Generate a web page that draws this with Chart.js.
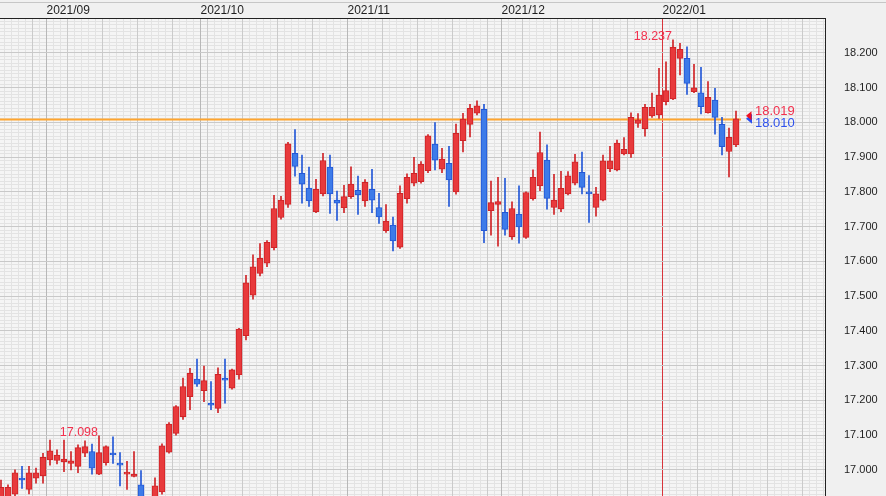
<!DOCTYPE html>
<html>
<head>
<meta charset="utf-8">
<script src="https://cdn.jsdelivr.net/npm/chart.js@4.4.0/dist/chart.umd.min.js"></script>
<style>
  html, body { margin: 0; padding: 0; background: #f0f0f0; }
  #wrap { position: relative; width: 886px; height: 496px; overflow: hidden; }
  #topline { position: absolute; left: 0; top: 2px; width: 886px; height: 1px; background: #c6c6c6; }
  canvas { display: block; }
</style>
</head>
<body>
<div id="wrap">
  <div id="topline"></div>
  <canvas id="chart" width="886" height="496"></canvas>
</div>
<script>
// trading days (one candle per day)
const dates = [
  '2021/08/23','2021/08/24','2021/08/25','2021/08/26','2021/08/27','2021/08/30','2021/08/31',
  '2021/09/01','2021/09/02','2021/09/03','2021/09/06','2021/09/07','2021/09/08','2021/09/09','2021/09/10',
  '2021/09/13','2021/09/14','2021/09/15','2021/09/16','2021/09/17','2021/09/20','2021/09/21','2021/09/22',
  '2021/09/23','2021/09/24','2021/09/27','2021/09/28','2021/09/29','2021/09/30',
  '2021/10/01','2021/10/04','2021/10/05','2021/10/06','2021/10/07','2021/10/08','2021/10/11','2021/10/12',
  '2021/10/13','2021/10/14','2021/10/15','2021/10/18','2021/10/19','2021/10/20','2021/10/21','2021/10/22',
  '2021/10/25','2021/10/26','2021/10/27','2021/10/28','2021/10/29',
  '2021/11/01','2021/11/02','2021/11/03','2021/11/04','2021/11/05','2021/11/08','2021/11/09','2021/11/10',
  '2021/11/11','2021/11/12','2021/11/15','2021/11/16','2021/11/17','2021/11/18','2021/11/19','2021/11/22',
  '2021/11/23','2021/11/24','2021/11/25','2021/11/26','2021/11/29','2021/11/30',
  '2021/12/01','2021/12/02','2021/12/03','2021/12/06','2021/12/07','2021/12/08','2021/12/09','2021/12/10',
  '2021/12/13','2021/12/14','2021/12/15','2021/12/16','2021/12/17','2021/12/20','2021/12/21','2021/12/22',
  '2021/12/23','2021/12/24','2021/12/27','2021/12/28','2021/12/29','2021/12/30','2021/12/31',
  '2022/01/03','2022/01/04','2022/01/05','2022/01/06','2022/01/07','2022/01/10','2022/01/11','2022/01/12',
  '2022/01/13','2022/01/14','2022/01/17'
];

const opens = [
  16.900,16.915,16.930,16.976,16.944,16.976,16.983,17.029,17.027,17.023,
  17.019,17.010,17.048,17.053,16.988,17.021,17.048,17.019,16.988,16.981,
  16.957,16.900,16.890,16.937,17.051,17.105,17.153,17.211,17.261,17.228,
  17.192,17.177,17.264,17.235,17.273,17.386,17.503,17.565,17.595,17.639,
  17.726,17.764,17.911,17.853,17.811,17.743,17.794,17.871,17.776,17.754,
  17.786,17.804,17.774,17.807,17.755,17.688,17.704,17.641,17.780,17.825,
  17.829,17.861,17.937,17.865,17.882,17.800,17.947,17.994,18.026,18.037,
  17.746,17.764,17.741,17.671,17.736,17.669,17.780,17.817,17.891,17.755,
  17.751,17.794,17.825,17.856,17.798,17.755,17.776,17.866,17.863,17.909,
  17.909,17.997,17.982,18.018,18.021,18.059,18.067,18.184,18.184,18.088,
  18.085,18.028,18.064,17.994,17.916,17.935
];
const highs = [
  16.971,16.957,17.000,17.010,17.010,17.005,17.048,17.086,17.058,17.086,
  17.053,17.072,17.084,17.074,17.098,17.069,17.095,17.050,17.025,17.053,
  16.998,16.915,16.977,17.075,17.136,17.185,17.264,17.292,17.319,17.299,
  17.254,17.294,17.319,17.290,17.407,17.560,17.619,17.651,17.660,17.790,
  17.787,17.942,17.979,17.906,17.871,17.836,17.911,17.906,17.802,17.819,
  17.872,17.845,17.835,17.865,17.796,17.763,17.727,17.817,17.852,17.899,
  17.887,17.965,17.999,17.925,17.931,17.995,18.026,18.052,18.062,18.052,
  17.831,17.842,17.839,17.771,17.817,17.800,17.863,17.972,17.935,17.850,
  17.859,17.858,17.908,17.914,17.847,17.813,17.906,17.931,17.949,17.956,
  18.027,18.025,18.052,18.084,18.155,18.174,18.237,18.227,18.217,18.167,
  18.158,18.117,18.098,18.014,17.983,18.032
];
const lows = [
  16.880,16.900,16.922,16.947,16.931,16.962,16.962,17.014,17.017,16.995,
  17.000,16.992,17.038,16.988,16.986,17.014,17.019,16.954,16.944,16.980,
  16.880,16.850,16.870,16.930,17.048,17.100,17.145,17.173,17.240,17.196,
  17.173,17.165,17.192,17.232,17.261,17.374,17.491,17.558,17.585,17.633,
  17.721,17.755,17.845,17.767,17.758,17.740,17.788,17.738,17.718,17.740,
  17.781,17.735,17.758,17.740,17.709,17.683,17.630,17.637,17.767,17.817,
  17.825,17.855,17.863,17.855,17.758,17.793,17.915,17.958,18.021,17.654,
  17.675,17.644,17.675,17.663,17.652,17.666,17.776,17.803,17.750,17.735,
  17.743,17.791,17.820,17.794,17.712,17.730,17.774,17.858,17.860,17.906,
  17.899,17.985,17.960,18.014,18.011,18.050,18.065,18.136,18.080,18.085,
  18.024,18.026,17.966,17.906,17.843,17.930
];
const closes = [
  16.950,16.950,16.992,16.971,16.992,16.992,17.036,17.055,17.043,17.031,
  17.026,17.064,17.067,17.005,17.050,17.067,17.043,17.014,16.992,16.988,
  16.900,16.870,16.954,17.069,17.132,17.182,17.240,17.278,17.247,17.257,
  17.186,17.275,17.258,17.288,17.405,17.538,17.584,17.609,17.655,17.752,
  17.776,17.938,17.873,17.822,17.774,17.807,17.890,17.794,17.767,17.786,
  17.822,17.791,17.827,17.776,17.728,17.716,17.659,17.796,17.842,17.853,
  17.880,17.961,17.891,17.894,17.834,17.968,18.009,18.040,18.047,17.688,
  17.769,17.772,17.692,17.752,17.699,17.798,17.842,17.913,17.781,17.776,
  17.810,17.846,17.886,17.813,17.794,17.794,17.889,17.889,17.940,17.922,
  18.014,18.007,18.043,18.043,18.078,18.091,18.216,18.210,18.112,18.099,
  18.045,18.072,18.014,17.930,17.957,18.010
];

// price axis labels
const yTicks = [17.0, 17.1, 17.2, 17.3, 17.4, 17.5, 17.6, 17.7, 17.8, 17.9, 18.0, 18.1, 18.2];
// candles whose high is labelled
const peakIdx = [14, 96];
// current quotes shown at the right of the last candle
const quotes = [18.019, 18.010];

const UP_FILL = '#e83a3c', UP_LINE = '#cf2226';
const DOWN_FILL = '#3d7be9', DOWN_LINE = '#2257d6';
const RED_TEXT = '#f2304d', BLUE_TEXT = '#2f52ee';
const PRICE_LINE = '#ffa52e';

const Y_MIN = 16.925, Y_MAX = 18.30;
const X_MIN = -1 / 7, X_MAX = X_MIN + 825 / 7;

Chart.defaults.font.family = "'Liberation Sans', Arial, sans-serif";

const isUp = i => closes[i] >= opens[i];
const idx = dates.map((d, i) => i);

// month starts and monday boundaries, from the dates
const monthStarts = idx.filter(i => i > 0 && dates[i].slice(0, 7) !== dates[i - 1].slice(0, 7));
const mondays = idx.filter(i => new Date(dates[i].replace(/\//g, '-') + 'T00:00:00Z').getUTCDay() === 1);
while (mondays[mondays.length - 1] + 5 < X_MAX) mondays.push(mondays[mondays.length - 1] + 5);
const yearStart = monthStarts.find(i => dates[i].slice(0, 4) !== dates[i - 1].slice(0, 4));

function fixedTicks(list) {
  return scale => { scale.ticks = list.map(v => ({ value: v })); };
}
// keep every axis from pushing the plot area in
function noPadding(scale) {
  scale.paddingTop = 0; scale.paddingBottom = 0;
  scale.paddingLeft = 0; scale.paddingRight = 0;
}
const minorX = [];
for (let k = 0; k - 0.5 < X_MAX; k++) minorX.push(k - 0.5);
const minorY = [];
for (let v = 1693; v <= 1830; v++) minorY.push(v / 100);

const xBase = {
  type: 'linear',
  position: 'top',
  min: X_MIN,
  max: X_MAX,
  offset: false,
  bounds: 'data'
};

const decor = {
  id: 'decor',
  beforeDraw(chart) {
    const { ctx, chartArea: a } = chart;
    ctx.save();
    ctx.fillStyle = '#f5f5f5';
    ctx.fillRect(a.left, a.top, a.right - a.left, a.bottom - a.top);
    ctx.restore();
  },
  beforeDatasetsDraw(chart) {
    // last price line, under the candles
    const { ctx, chartArea: a, scales: { x, y } } = chart;
    const last = closes.length - 1;
    const py = Math.round(y.getPixelForValue(closes[last]));
    const right = Math.round(x.getPixelForValue(last + 0.65));
    ctx.save();
    ctx.fillStyle = PRICE_LINE;
    ctx.fillRect(a.left, py - 0.5, right - a.left, 2);
    ctx.restore();
  },
  afterDatasetsDraw(chart) {
    const { ctx, scales: { x, y } } = chart;
    ctx.save();
    ctx.font = "12.5px 'Liberation Sans', Arial, sans-serif";
    ctx.fillStyle = RED_TEXT;
    ctx.textAlign = 'right';
    ctx.textBaseline = 'alphabetic';
    peakIdx.forEach(i => {
      ctx.fillText(highs[i].toFixed(3), x.getPixelForValue(i) - 1, y.getPixelForValue(highs[i]));
    });

    const last = closes.length - 1;
    const tip = x.getPixelForValue(last) + 10;
    const yR = y.getPixelForValue(quotes[0]);
    const yB = y.getPixelForValue(quotes[1]);
    ctx.fillStyle = '#2a4ff0';
    ctx.beginPath();
    ctx.moveTo(tip, yB); ctx.lineTo(tip + 6, yB - 5); ctx.lineTo(tip + 6, yB + 5);
    ctx.closePath(); ctx.fill();
    ctx.fillStyle = '#f01020';
    ctx.beginPath();
    ctx.moveTo(tip, yR); ctx.lineTo(tip + 5.5, yR - 4.5); ctx.lineTo(tip + 5.5, yR + 4.5);
    ctx.closePath(); ctx.fill();

    ctx.font = "13px 'Liberation Sans', Arial, sans-serif";
    ctx.textAlign = 'left';
    ctx.textBaseline = 'middle';
    ctx.fillStyle = RED_TEXT;
    ctx.fillText(quotes[0].toFixed(3), tip + 9, yR - 4);
    ctx.fillStyle = BLUE_TEXT;
    ctx.fillText(quotes[1].toFixed(3), tip + 9, yB + 4.5);
    ctx.restore();
  }
};

new Chart(document.getElementById('chart'), {
  type: 'bar',
  data: {
    datasets: [
      {
        label: 'body',
        data: idx.map(i => ({ x: i, y: [opens[i], closes[i]] })),
        backgroundColor: c => isUp(c.dataIndex) ? UP_FILL : DOWN_FILL,
        borderColor: c => isUp(c.dataIndex) ? UP_LINE : DOWN_LINE,
        borderWidth: 1,
        borderSkipped: false,
        barThickness: 6,
        minBarLength: 2,
        grouped: false,
        clip: 0,
        order: 0
      },
      {
        label: 'wick',
        data: idx.map(i => ({ x: i, y: [lows[i], highs[i]] })),
        backgroundColor: c => isUp(c.dataIndex) ? UP_LINE : DOWN_LINE,
        borderWidth: 0,
        barThickness: 1,
        grouped: false,
        clip: 0,
        order: 1
      }
    ]
  },
  options: {
    responsive: false,
    animation: false,
    events: [],
    layout: { padding: 0 },
    plugins: { legend: { display: false }, tooltip: { enabled: false } },
    scales: {
      x: {
        ...xBase,
        afterBuildTicks: fixedTicks(monthStarts.map(i => i - 0.5)),
        afterFit: s => { s.height = 18; noPadding(s); },
        ticks: {
          align: 'start',
          padding: 0,
          maxRotation: 0,
          autoSkip: false,
          color: '#1e1e1e',
          font: { size: 12 },
          callback: (v, n) => dates[monthStarts[n]].slice(0, 7)
        },
        grid: {
          z: -1,
          offset: false,
          drawTicks: false,
          color: c => (c.tick && c.tick.value === yearStart - 0.5) ? '#d8343a' : '#b8b8b8'
        },
        border: { display: true, color: '#222', width: 1 }
      },
      xWeek: {
        ...xBase,
        afterBuildTicks: fixedTicks(mondays.map(i => i - 0.5)),
        afterFit: noPadding,
        ticks: { display: false },
        grid: { z: -2, offset: false, drawTicks: false, color: '#cbcbcb' },
        border: { display: false }
      },
      xMinor: {
        ...xBase,
        afterBuildTicks: fixedTicks(minorX),
        afterFit: noPadding,
        ticks: { display: false },
        grid: { z: -3, offset: false, drawTicks: false, color: '#e3e3e3' },
        border: { display: false }
      },
      y: {
        type: 'linear',
        position: 'right',
        min: Y_MIN,
        max: Y_MAX,
        afterBuildTicks: fixedTicks(yTicks),
        afterFit: s => { s.width = 61; noPadding(s); },
        ticks: {
          padding: 19,
          color: '#1e1e1e',
          font: { size: 11 },
          callback: v => v.toFixed(3)
        },
        grid: { z: -1, drawTicks: false, color: '#c9c9c9' },
        border: { display: true, color: '#222', width: 1 }
      },
      yMinor: {
        type: 'linear',
        position: 'left',
        min: Y_MIN,
        max: Y_MAX,
        afterBuildTicks: fixedTicks(minorY),
        afterFit: s => { s.width = 0; noPadding(s); },
        ticks: { display: false },
        grid: { z: -3, drawTicks: false, color: '#e3e3e3' },
        border: { display: false }
      }
    }
  },
  plugins: [decor]
});
</script>
</body>
</html>
